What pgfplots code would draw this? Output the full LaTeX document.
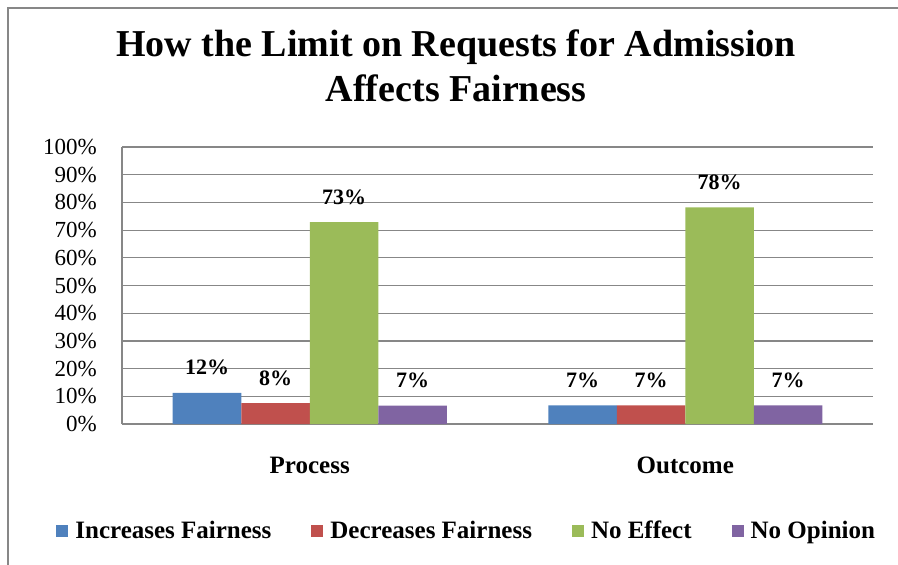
\documentclass[border=0pt]{standalone}
\usepackage{pgfplots}
\pgfplotsset{compat=1.18}
\usepackage{fontspec}
\setmainfont{Liberation Serif}

\definecolor{cblue}{HTML}{4F81BD}
\definecolor{cred}{HTML}{C0504D}
\definecolor{cgreen}{HTML}{9BBB59}
\definecolor{cpurple}{HTML}{8064A2}
\definecolor{linegray}{HTML}{878787}

\pgfplotsset{sqleg/.style={legend image code/.code={\fill[##1] (0pt,-6pt) rectangle (12pt,6pt);}}}

\begin{document}
\begin{tikzpicture}[x=1pt,y=1pt]
\useasboundingbox (0,0) rectangle (898,-565);
\draw[linegray, line width=1.5pt] (8,-575) -- (8,-8) -- (910,-8);
\begin{axis}[
    at={(122pt,-424pt)}, anchor=south west,
    scale only axis, width=751pt, height=277pt,
    xmin=-0.5, xmax=1.5, ymin=0, ymax=100,
    ybar=0pt, bar width=68.5pt,
    xtick={0,1}, xticklabels={Process,Outcome},
    ytick={0,10,...,100},
    yticklabel={\pgfmathprintnumber{\tick}\%},
    /pgf/number format/assume math mode=true,
    ymajorgrids, grid style={linegray, line width=1.2pt},
    axis x line*=bottom, axis y line*=left,
    axis line style={linegray, line width=1.5pt, -},
    major tick length=0pt,
    yticklabel style={font=\fontsize{23}{26}\selectfont, inner sep=0pt, anchor=east, xshift=-25pt},
    xticklabel style={font=\fontsize{25}{28}\selectfont\bfseries, anchor=base, yshift=-49pt},
    title={How the Limit on Requests for Admission\\Affects Fairness},
    title style={at={(0.445,1.27)}, anchor=center, align=center,
        font=\fontsize{38}{45}\selectfont\bfseries},
    point meta=explicit symbolic,
    nodes near coords={\pgfplotspointmeta\%},
    every node near coord/.append style={font=\fontsize{22}{26}\selectfont\bfseries, anchor=base, yshift=18pt},
    legend columns=4,
    legend style={at={(0.459,-0.386)}, anchor=center, draw=none,
        font=\fontsize{25}{30}\selectfont\bfseries,
        /tikz/every odd column/.append style={column sep=5pt},
        /tikz/every even column/.append style={column sep=38pt}},
]
\addplot[fill=cblue, draw=none, sqleg] coordinates {(0,11.2) [12] (1,6.7) [7]};
\addplot[fill=cred, draw=none, sqleg] coordinates {(0,7.5) [8] (1,6.7) [7]};
\addplot[fill=cgreen, draw=none, sqleg] coordinates {(0,72.9) [73] (1,78.2) [78]};
\addplot[fill=cpurple, draw=none, sqleg] coordinates {(0,6.6) [7] (1,6.7) [7]};
\legend{Increases Fairness, Decreases Fairness, No Effect, No Opinion}
\end{axis}
\end{tikzpicture}
\end{document}
